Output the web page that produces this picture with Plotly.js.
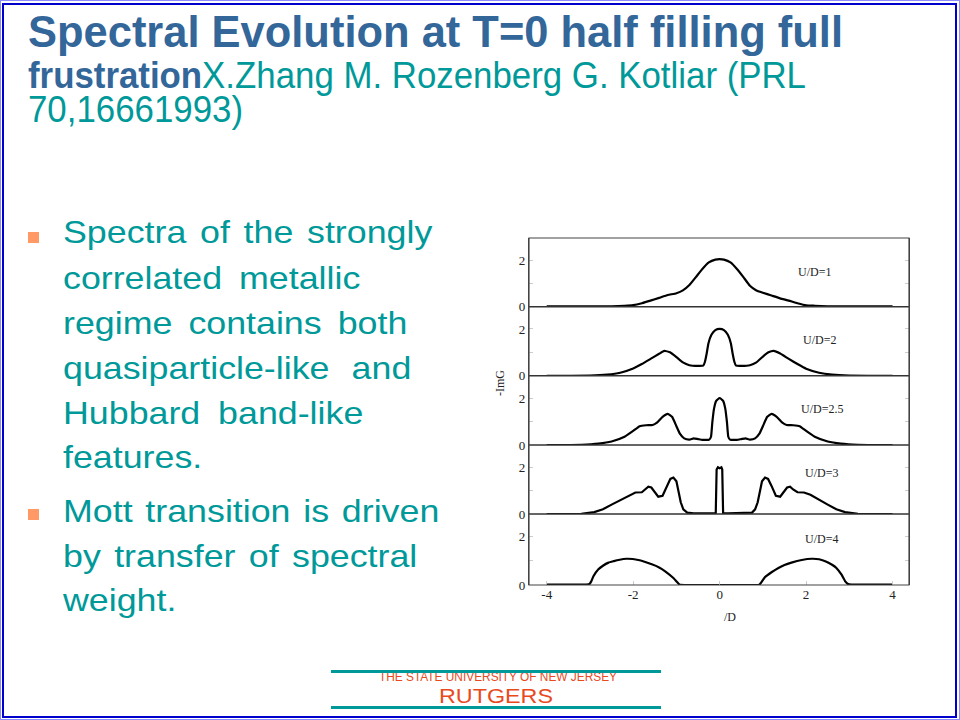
<!DOCTYPE html>
<html>
<head>
<meta charset="utf-8">
<script src="https://cdn.plot.ly/plotly-3.0.1.min.js"></script>
<style>
  html, body { margin:0; padding:0; background:#fff; }
  #slide { position:relative; width:960px; height:720px; overflow:hidden; background:#fff; font-family:"Liberation Sans", Arial, sans-serif; }
  .abs { position:absolute; white-space:nowrap; line-height:1; }
  .outer { position:absolute; left:0; top:0; width:958px; height:718px; border:1px solid #8c8cff; }
  .inner { position:absolute; left:2px; top:3px; width:951px; height:711px; border:2.5px solid #0000cc; }
  .t1 { font-weight:bold; color:#336699; font-size:44px; }
  .t2 { color:#009999; font-size:36px; line-height:0.9; }
  .t2 b { color:#336699; }
  .bl { color:#009999; font-size:32px; }
  .sq { position:absolute; width:11px; height:11px; background:#ff9966; }
  .teal { position:absolute; left:331px; width:330px; height:3px; background:#009999; }
  .foot1 { color:#e84a1e; font-size:12px; }
  .foot2 { color:#e84a1e; font-size:20px; }
  #chart { position:absolute; left:490px; top:230px; width:430px; height:400px; }
</style>
</head>
<body>
<div id="slide">
  <div class="outer"></div>
  <div class="inner"></div>

  <div class="abs t1" id="title1" style="left:28px; top:10px;">Spectral Evolution at T=0 half filling full</div>
  <div class="abs t2" id="title2" style="left:28px; top:60.3px;"><b>frustration</b>X.Zhang M. Rozenberg G. Kotliar (PRL</div>
  <div class="abs t2" id="title3" style="left:28px; top:93.8px;">70,16661993)</div>

  <div class="sq" style="left:28px; top:232px;"></div>
  <div class="sq" style="left:28px; top:509px;"></div>
  <div id="bullets"></div>

  <div class="abs foot1" id="foot1" style="top:670.5px;">THE STATE UNIVERSITY OF NEW JERSEY</div>
  <div class="teal" style="top:670px;"></div>
  <div class="abs foot2" id="foot2" style="top:686px;">RUTGERS</div>
  <div class="teal" style="top:706px;"></div>

  <div id="chart"></div>
</div>

<script>
// ---------------- Chart data ----------------
const xTicks = [-4, -2, 0, 2, 4];
const panelLabels = ["U/D=1", "U/D=2", "U/D=2.5", "U/D=3", "U/D=4"];
const labelX = [2.2, 2.32, 2.37, 2.35, 2.36];
const labelY = [1.48, 1.53, 1.52, 1.74, 1.9];

// U/D = 1
const w1 = [-4, -3, -2.5, -2.2, -2.0, -1.8, -1.6, -1.4, -1.2, -1.0, -0.85, -0.7, -0.55, -0.4, -0.25, -0.1, 0,
            0.1, 0.25, 0.4, 0.55, 0.7, 0.85, 1.0, 1.2, 1.4, 1.6, 1.8, 2.0, 2.2, 2.5, 3, 4];
const a1 = [0.01, 0.01, 0.02, 0.04, 0.07, 0.15, 0.26, 0.38, 0.5, 0.58, 0.7, 0.93, 1.27, 1.62, 1.9, 2.02, 2.04,
            2.02, 1.9, 1.62, 1.27, 0.9, 0.7, 0.6, 0.48, 0.36, 0.26, 0.15, 0.06, 0.04, 0.02, 0.01, 0.01];

// U/D = 2
const w2 = [-4, -3, -2.6, -2.3, -2.0, -1.8, -1.6, -1.4, -1.28, -1.15, -1.0, -0.85, -0.7, -0.5, -0.38, -0.34, -0.3, -0.26, -0.19, -0.1, 0,
            0.1, 0.19, 0.26, 0.3, 0.34, 0.38, 0.5, 0.7, 0.85, 1.0, 1.13, 1.25, 1.4, 1.6, 1.8, 2.0, 2.3, 2.6, 3, 4];
const a2 = [0, 0.01, 0.05, 0.13, 0.31, 0.5, 0.72, 0.94, 1.06, 1.0, 0.8, 0.57, 0.45, 0.42, 0.43, 0.6, 0.95, 1.38, 1.75, 1.95, 2.0,
            1.95, 1.75, 1.38, 0.95, 0.6, 0.43, 0.42, 0.45, 0.57, 0.82, 1.0, 1.06, 0.95, 0.72, 0.5, 0.3, 0.13, 0.05, 0.01, 0];

// U/D = 2.5
const w3 = [-4, -3.2, -2.8, -2.5, -2.2, -2.0, -1.85, -1.7, -1.55, -1.45, -1.32, -1.2, -1.1, -1.0, -0.92, -0.82, -0.7, -0.6, -0.5, -0.4, -0.24, -0.2, -0.17, -0.13, -0.08, 0,
            0.08, 0.13, 0.17, 0.2, 0.24, 0.4, 0.5, 0.6, 0.7, 0.82, 0.92, 1.0, 1.1, 1.2, 1.32, 1.45, 1.55, 1.7, 1.85, 2.0, 2.2, 2.5, 2.8, 3.2, 4];
const a3 = [0, 0.01, 0.06, 0.15, 0.35, 0.6, 0.8, 0.84, 0.85, 0.95, 1.2, 1.33, 1.2, 0.8, 0.48, 0.28, 0.23, 0.28, 0.25, 0.22, 0.23, 0.35, 0.95, 1.55, 1.88, 2.0,
            1.88, 1.55, 0.95, 0.35, 0.23, 0.22, 0.25, 0.28, 0.23, 0.28, 0.48, 0.8, 1.2, 1.33, 1.2, 0.95, 0.85, 0.84, 0.8, 0.6, 0.35, 0.15, 0.06, 0.01, 0];

// U/D = 3
const w4 = [-4, -3.2, -2.9, -2.7, -2.5, -2.3, -2.1, -1.95, -1.8, -1.72, -1.65, -1.58, -1.5, -1.42, -1.32, -1.22, -1.14, -1.07, -1.0, -0.95, -0.9, -0.84, -0.75, -0.6, -0.4, -0.2, -0.09, -0.07, -0.04, 0, 0.04, 0.06, 0.08,
            0.2, 0.4, 0.6, 0.75, 0.82, 0.88, 0.93, 0.98, 1.05, 1.12, 1.2, 1.3, 1.4, 1.48, 1.56, 1.63, 1.7, 1.8, 1.95, 2.1, 2.3, 2.5, 2.7, 2.9, 3.2, 4];
const a4 = [0, 0.01, 0.08, 0.2, 0.4, 0.6, 0.8, 0.92, 0.93, 1.05, 1.17, 1.13, 0.92, 0.74, 0.78, 1.2, 1.5, 1.56, 1.4, 0.95, 0.5, 0.2, 0.06, 0.03, 0.04, 0.03, 0.04, 1.9, 2.0, 1.96, 2.0, 1.9, 0.04,
            0.03, 0.04, 0.03, 0.06, 0.2, 0.5, 0.95, 1.4, 1.56, 1.5, 1.2, 0.78, 0.74, 0.92, 1.13, 1.17, 1.05, 0.93, 0.92, 0.82, 0.6, 0.4, 0.2, 0.08, 0.01, 0];

// U/D = 4
const w5 = [-4, -3.1, -3.02, -2.97, -2.92, -2.81, -2.7, -2.57, -2.45, -2.34, -2.15, -1.88, -1.57, -1.4, -1.26, -1.07, -1.0, -0.95, -0.92, 0,
            0.92, 0.96, 1.05, 1.2, 1.36, 1.5, 1.66, 1.9, 2.13, 2.3, 2.47, 2.6, 2.7, 2.82, 2.91, 2.97, 3.05, 3.2, 4];
const a5 = [0.02, 0.02, 0.03, 0.15, 0.36, 0.64, 0.8, 0.93, 0.99, 1.04, 1.09, 1.04, 0.86, 0.73, 0.57, 0.29, 0.15, 0.05, 0.01, 0,
            0.01, 0.1, 0.33, 0.53, 0.71, 0.83, 0.93, 1.04, 1.09, 1.07, 0.97, 0.84, 0.71, 0.43, 0.14, 0.04, 0.02, 0.02, 0.02];

const omegas = [w1, w2, w3, w4, w5];
const spectra = [a1, a2, a3, a4, a5];

// ---------------- Layout constants ----------------
const domains = [[0.802, 1], [0.603, 0.802], [0.4035, 0.603], [0.2046, 0.4035], [0, 0.2046]];
const serif = "Liberation Serif, Times New Roman, serif";

const traces = omegas.map((w, i) => ({
  type: "scatter", mode: "lines",
  x: w, y: spectra[i],
  xaxis: "x", yaxis: i === 0 ? "y" : "y" + (i + 1),
  line: { color: "#000", width: 2.2, shape: i === 3 ? "linear" : "spline", smoothing: 0.4 },
  hoverinfo: "skip", showlegend: false
}));

const layout = {
  width: 430, height: 400,
  margin: { l: 39, r: 11, t: 8, b: 45 },
  paper_bgcolor: "rgba(0,0,0,0)", plot_bgcolor: "#fff",
  font: { family: serif, size: 13, color: "#222" },
  showlegend: false,
  xaxis: {
    range: [-4.41, 4.38], tickvals: xTicks, ticktext: xTicks.map(String),
    ticks: "inside", ticklen: 4, tickcolor: "#ccc",
    showgrid: false, zeroline: false, showline: false,
    anchor: "y5", tickfont: { family: serif, size: 13, color: "#222" }
  },
  shapes: [],
  annotations: []
};

domains.forEach((d, i) => {
  const key = i === 0 ? "yaxis" : "yaxis" + (i + 1);
  layout[key] = {
    domain: d, range: [0, 2.95],
    tickvals: [0, 1, 2], ticktext: ["0", "", "2"],
    ticks: "inside", ticklen: 4, tickcolor: "#ccc",
    showgrid: false, zeroline: false,
    showline: true, linecolor: "#444", linewidth: 1.2, mirror: "ticks",
    anchor: "x", tickfont: { family: serif, size: 13, color: "#222" },
    fixedrange: true
  };
  layout.annotations.push({
    xref: "x", yref: i === 0 ? "y" : "y" + (i + 1),
    x: labelX[i], y: labelY[i], text: panelLabels[i], showarrow: false,
    xanchor: "center", yanchor: "middle",
    font: { family: serif, size: 12, color: "#222" }
  });
  if (i > 0) {
    layout.shapes.push({ type: "line", xref: "paper", yref: "paper", x0: 0, x1: 1, y0: d[1], y1: d[1],
      line: { color: "#333", width: 1.4 } });
  }
});
layout.shapes.push({ type: "rect", xref: "paper", yref: "paper", x0: 0, x1: 1, y0: 0, y1: 1,
  line: { color: "#444", width: 1.2 } });

layout.annotations.push({
  xref: "paper", yref: "paper", x: -0.0763, y: 0.582, text: "-ImG", showarrow: false,
  textangle: -90, xanchor: "center", yanchor: "middle",
  font: { family: serif, size: 12, color: "#222" }
});
layout.annotations.push({
  xref: "paper", yref: "paper", x: 0.529, y: -0.0913, text: "/D", showarrow: false,
  xanchor: "center", yanchor: "middle",
  font: { family: serif, size: 12, color: "#222" }
});

Plotly.newPlot("chart", traces, layout, { displayModeBar: false, staticPlot: true });

// ---------------- Slide text ----------------
const bulletLines = [
  "Spectra of the strongly",
  "correlated metallic",
  "regime contains both",
  "quasiparticle-like and",
  "Hubbard band-like",
  "features.",
  "Mott transition is driven",
  "by transfer of spectral",
  "weight."
];
const bulletBaselines = [243, 289, 334, 379, 424, 468, 522, 567, 611];
const bulletRight = [432, 360, 407, 411, 363, 202, 439, 417, 176];
const bulletLeft = 62.7;

const bc = document.getElementById("bullets");
const bulletEls = bulletLines.map((t, i) => {
  const el = document.createElement("div");
  el.className = "abs bl";
  el.textContent = t;
  el.style.left = bulletLeft + "px";
  el.style.top = (bulletBaselines[i] - 0.8465 * 32) + "px";
  bc.appendChild(el);
  return el;
});

function fitScale(el, left, right) {
  el.style.transformOrigin = "left top";
  const w = el.getBoundingClientRect().width;
  el.style.transform = "scaleX(" + ((right - left) / w) + ")";
}

function layoutText() {
  const ratios = [];
  bulletEls.forEach((el, i) => {
    if (bulletLines[i].indexOf(" ") < 0) {
      ratios.push((bulletRight[i] - bulletLeft) / el.getBoundingClientRect().width);
    }
  });
  const s = ratios.reduce((p, c) => p + c, 0) / ratios.length;
  bulletEls.forEach((el, i) => {
    const spaces = (bulletLines[i].match(/ /g) || []).length;
    const w = el.getBoundingClientRect().width;
    const target = (bulletRight[i] - bulletLeft) / s;
    if (spaces > 0) el.style.wordSpacing = ((target - w) / spaces) + "px";
    el.style.transformOrigin = "left top";
    el.style.transform = "scaleX(" + s + ")";
  });
  fitScale(document.getElementById("title1"), 28, 843);
  fitScale(document.getElementById("title2"), 28, 806);
  fitScale(document.getElementById("title3"), 28, 243);

  const f1 = document.getElementById("foot1");
  f1.style.left = "379px"; fitScale(f1, 379, 617);
  const f2 = document.getElementById("foot2");
  f2.style.left = "439px"; fitScale(f2, 439, 553);
}
if (document.fonts && document.fonts.ready) {
  document.fonts.ready.then(layoutText);
} else {
  layoutText();
}
</script>
</body>
</html>
